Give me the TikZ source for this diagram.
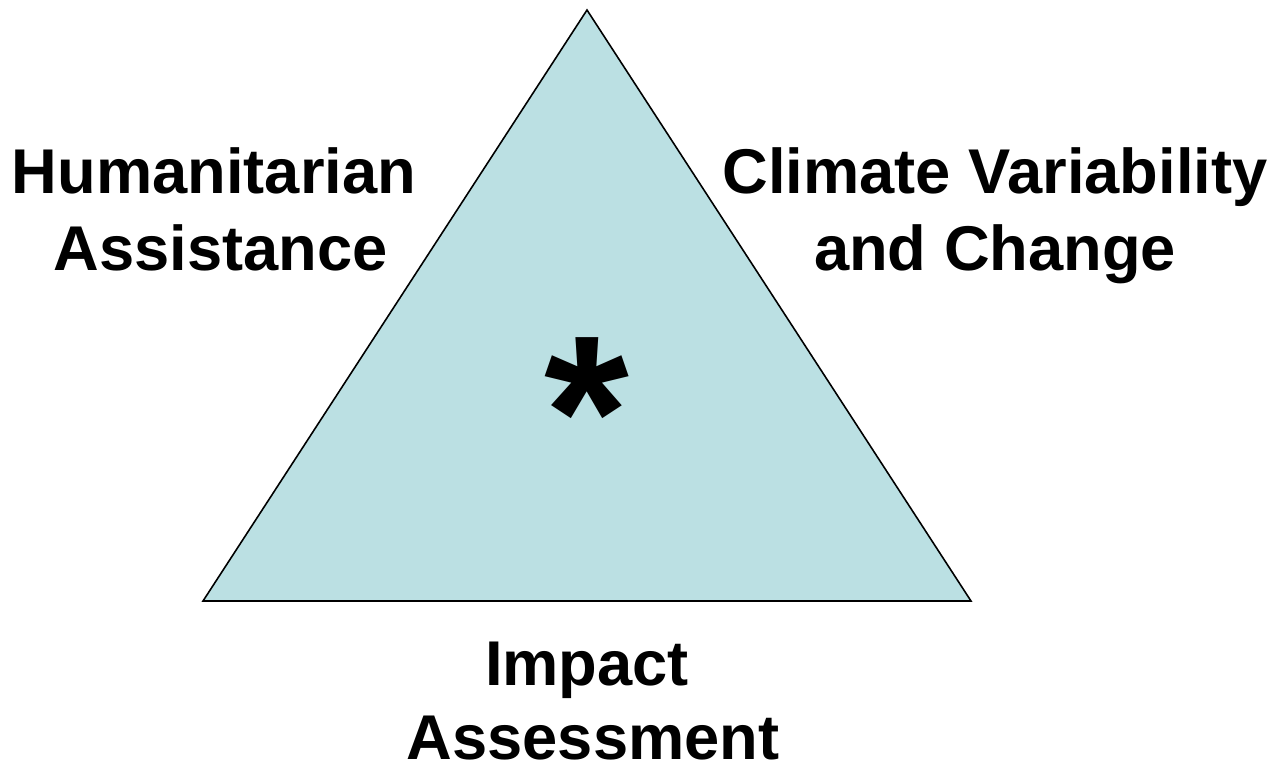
\documentclass[tikz,border=0pt]{standalone}
\usepackage{fontspec}
\setmainfont{Liberation Sans}
\definecolor{trifill}{HTML}{BBE0E3}
\begin{document}
\begin{tikzpicture}[x=0.02cm,y=-0.02cm,
  lbl/.style={inner sep=0pt,anchor=base,font=\fontsize{36}{43.5}\selectfont\bfseries},
  star/.style={inner sep=0pt,anchor=base,font=\fontsize{124}{124}\selectfont\bfseries}]
\useasboundingbox (0,0) rectangle (1275,765);
\coordinate (top) at (587,10);
\coordinate (bl) at (203,601);
\coordinate (br) at (971,601);
\filldraw[fill=trifill,draw=black,line width=0.9pt,line join=miter] (top) -- (bl) -- (br) -- cycle;
\node[star] (ast) at (587,487) {*};
\node[lbl] (h1) at (214,193) {Humanitarian};
\node[lbl] (h2) at (221,270) {Assistance};
\node[lbl] (c1) at (995,193) {Climate Variability};
\node[lbl] (c2) at (995,270) {and Change};
\node[lbl] (i1) at (587,685) {Impact};
\node[lbl] (i2) at (593,759) {Assessment};
\end{tikzpicture}
\end{document}
